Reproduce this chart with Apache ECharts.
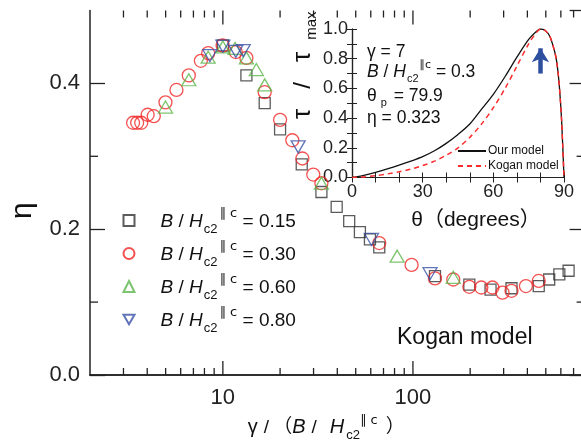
<!DOCTYPE html>
<html><head><meta charset="utf-8">
<script src="https://cdn.jsdelivr.net/npm/echarts@6/dist/echarts.min.js"></script>
<style>html,body{margin:0;padding:0;background:#fff}#c{width:581px;height:448px}</style>
</head><body><div id="c"></div>
<script>
const FONT = '"Liberation Sans", Arial, "Noto Sans CJK JP", sans-serif';
const AX = '#222';

// ---- main panel data: x = gamma/(B/Hc2||c), y = eta ----
const x015 = [10, 13.3, 16.6, 20.0, 26, 33, 39.7, 46.2, 52.6, 59.4, 66.5, 130.6, 198, 256, 330, 459, 521, 589, 659];
const y015 = [0.452, 0.411, 0.373, 0.337, 0.289, 0.251, 0.2305, 0.211, 0.196, 0.186, 0.175, 0.1356, 0.124, 0.117, 0.119, 0.122, 0.131, 0.138, 0.143];

const x030 = [3.37, 3.54, 3.72, 4.02, 4.33, 4.99, 5.70, 6.62, 7.66, 8.37, 9.97, 11.7, 13.3, 16.6, 20.0, 23.2, 26.2, 29.9, 33.0, 66.5, 98.4, 130.6, 163, 198, 229, 262, 296, 330, 393, 459];
const y030 = [0.346, 0.346, 0.346, 0.357, 0.355, 0.374, 0.391, 0.411, 0.431, 0.4415, 0.452, 0.443, 0.435, 0.388, 0.350, 0.322, 0.297, 0.275, 0.263, 0.181, 0.151, 0.1325, 0.131, 0.121, 0.120, 0.120, 0.113, 0.1155, 0.122, 0.129];

const x060 = [4.99, 6.62, 8.37, 10, 11.6, 13.3, 15.0, 16.6, 33, 82.6, 163];
const y060 = [0.3675, 0.405, 0.436, 0.450, 0.448, 0.435, 0.419, 0.398, 0.263, 0.163, 0.134];

const x080 = [8.54, 10, 11.7, 12.8, 24.9, 60.5, 123];
const y080 = [0.438, 0.451, 0.444, 0.445, 0.313, 0.186, 0.139];

const fieldLabels = ['0.15', '0.30', '0.60', '0.80'];

// main axis ticks
const xMin = 2, xMax = 800, yMin = 0, yMax = 0.5;
const xMajorTicks = [10, 100];
const xMinorTicks = [3, 4, 5, 6, 7, 8, 9, 20, 30, 40, 50, 60, 70, 80, 90, 200, 300, 400, 500, 600, 700];
const yMinorTicks = [0.1, 0.3];

// ---- inset data: theta (deg) vs tau/tau_max ----
const thetaDeg = [0, 5, 10, 15, 20, 25, 30, 35, 40, 45, 50, 55, 60, 65, 70, 75, 78, 80, 82, 84, 86, 87, 88, 89, 90];
const ourModel = [0, 0.015, 0.035, 0.058, 0.083, 0.11, 0.14, 0.18, 0.23, 0.29, 0.36, 0.46, 0.56, 0.68, 0.81, 0.93, 0.98, 1.0, 0.99, 0.95, 0.85, 0.77, 0.62, 0.38, 0];
const koganModel = [0, 0.004, 0.012, 0.024, 0.038, 0.057, 0.08, 0.11, 0.15, 0.20, 0.27, 0.36, 0.47, 0.60, 0.75, 0.90, 0.97, 1.0, 0.99, 0.95, 0.85, 0.77, 0.62, 0.38, 0];
const arrowTheta = 80, arrowFrom = 0.70, arrowTo = 0.87;

const pair = (xs, ys) => xs.map((x, i) => [x, ys[i]]);

const chart = echarts.init(document.getElementById('c'), null, {renderer: 'canvas'});

const SUPF = '"DejaVu Sans", ' + FONT;
const DOWN_TRIANGLE = 'path://M0,0L14,0L7,12Z';
const legendRich = {
  b0: {fontSize: 19, fontStyle: 'italic', fontFamily: FONT, color: '#111', padding: [2, 0, 0, 21]},
  i: {fontSize: 19, fontStyle: 'italic', fontFamily: FONT, color: '#111', padding: [2, 0, 0, 0]},
  n: {fontSize: 19, fontFamily: FONT, color: '#111', padding: [2, 0, 0, 0]},
  sub: {fontSize: 13, fontFamily: FONT, color: '#111', padding: [18, 0, 0, 1]},
  sup: {fontSize: 13, fontFamily: SUPF, color: '#111', padding: [0, 0, 14, 2]}
};

function scatter(name, xs, ys, symbol, size, color) {
  return {
    type: 'scatter', name: name, xAxisIndex: 0, yAxisIndex: 0,
    data: pair(xs, ys), symbol: symbol, symbolSize: size,
    itemStyle: {color: 'rgba(255,255,255,0)', borderColor: color, borderWidth: 1.3},
    emphasis: {disabled: true}
  };
}

const names = fieldLabels.map(v => 'B/Hc2||c = ' + v);

function xTickSeries(values, len) {
  return {
    type: 'custom', xAxisIndex: 0, yAxisIndex: 0, silent: true, clip: false, z: 5,
    data: values.map(v => [v, yMin]), encode: {x: 0, y: 1},
    renderItem: (params, api) => {
      const v = api.value(0);
      const b = api.coord([v, yMin]), t = api.coord([v, yMax]);
      const st = {stroke: AX, lineWidth: 1.3};
      return {type: 'group', children: [
        {type: 'line', shape: {x1: b[0], y1: b[1], x2: b[0], y2: b[1] - len}, style: st},
        {type: 'line', shape: {x1: t[0], y1: t[1], x2: t[0], y2: t[1] + len}, style: st}
      ]};
    }
  };
}

const option = {
  animation: false,
  backgroundColor: '#fff',
  textStyle: {fontFamily: FONT},
  grid: [
    {left: 90, top: 10.5, width: 494.6, height: 364.5, outerBoundsMode: 'none', containLabel: false},
    {left: 352, top: 29, width: 212, height: 148.5, outerBoundsMode: 'none', containLabel: false}
  ],
  xAxis: [
    {
      type: 'log', gridIndex: 0, min: xMin, max: xMax, position: 'bottom',
      axisLine: {lineStyle: {color: AX, width: 1.5}},
      axisTick: {show: false},
      splitLine: {show: false},
      axisLabel: {
        fontSize: 22, color: '#222', margin: 12, fontFamily: FONT,
        formatter: v => {const l = Math.log10(v); return Math.abs(l - Math.round(l)) < 1e-6 ? String(Math.round(Math.pow(10, Math.round(l)))) : '';}
      },
      name: '{g|γ}{n|/}{p|（}{i|B}{m|/}{i|H}{sub|c2}{sup|∥ c}{q|）}',
      nameLocation: 'middle', nameGap: 36,
      nameTextStyle: {
        padding: [0, 22, 0, 0],
        rich: {
          g: {fontSize: 20, fontFamily: FONT, color: '#111'},
          i: {fontSize: 20, fontStyle: 'italic', fontFamily: FONT, color: '#111'},
          n: {fontSize: 19, fontFamily: FONT, color: '#111', padding: [0, 4, 0, 6]},
          m: {fontSize: 19, fontFamily: FONT, color: '#111', padding: [0, 13, 0, 6]},
          p: {fontSize: 19, fontFamily: FONT, color: '#111'},
          q: {fontSize: 19, fontFamily: FONT, color: '#111', padding: [0, 0, 0, 8]},
          sub: {fontSize: 13, fontFamily: FONT, color: '#111', padding: [16, 0, 0, 2]},
          sup: {fontSize: 13, fontFamily: SUPF, color: '#111', padding: [0, 0, 15, 0]}
        }
      }
    },
    {
      type: 'log', gridIndex: 0, min: xMin, max: xMax, position: 'top',
      axisLine: {lineStyle: {color: AX, width: 1.5}},
      axisTick: {show: false},
      axisLabel: {show: false}, splitLine: {show: false}
    },
    {
      type: 'value', gridIndex: 1, min: 0, max: 90, interval: 30, position: 'bottom',
      axisLine: {lineStyle: {color: AX, width: 1.2}},
      axisTick: {inside: true, length: 5, lineStyle: {color: AX}},
      minorTick: {show: true, splitNumber: 3, length: 5, lineStyle: {color: AX}},
      splitLine: {show: false}, minorSplitLine: {show: false},
      axisLabel: {fontSize: 18, color: '#222', margin: 6, fontFamily: FONT},
      name: 'θ（degrees）', nameLocation: 'middle', nameGap: 32,
      nameTextStyle: {fontSize: 21, color: '#111', fontFamily: FONT, padding: [0, 0, 0, 36]}
    },
    {
      type: 'value', gridIndex: 1, min: 0, max: 90, interval: 30, position: 'top',
      axisLine: {lineStyle: {color: AX, width: 1.2}},
      axisTick: {inside: true, length: 5, lineStyle: {color: AX}},
      minorTick: {show: true, splitNumber: 3, length: 5, lineStyle: {color: AX}},
      splitLine: {show: false}, axisLabel: {show: false}
    }
  ],
  yAxis: [
    {
      type: 'value', gridIndex: 0, min: yMin, max: yMax, interval: 0.2, position: 'left',
      axisLine: {lineStyle: {color: AX, width: 1.5}},
      axisTick: {inside: true, length: 15, lineStyle: {color: AX, width: 1.3}},
      splitLine: {show: false},
      axisLabel: {fontSize: 22, color: '#222', margin: 10, fontFamily: FONT, showMaxLabel: false, formatter: v => v.toFixed(1)},
      name: 'η', nameLocation: 'middle', nameGap: 52,
      nameTextStyle: {fontSize: 30, color: '#111', fontFamily: FONT, padding: [0, 36, 0, 0]}
    },
    {
      type: 'value', gridIndex: 0, min: yMin, max: yMax, interval: 0.2, position: 'right',
      axisLine: {lineStyle: {color: AX, width: 1.5}},
      axisTick: {inside: true, length: 15, lineStyle: {color: AX, width: 1.3}},
      splitLine: {show: false}, axisLabel: {show: false}
    },
    {
      type: 'value', gridIndex: 1, min: 0, max: 1, interval: 0.2, position: 'left',
      axisLine: {lineStyle: {color: AX, width: 1.2}},
      axisTick: {inside: true, length: 5, lineStyle: {color: AX}},
      minorTick: {show: true, splitNumber: 2, length: 5, lineStyle: {color: AX}},
      splitLine: {show: false}, minorSplitLine: {show: false},
      axisLabel: {fontSize: 18, color: '#222', margin: 4, fontFamily: FONT, formatter: v => v.toFixed(1)},
      name: '{t|τ}{n|/}{t|τ}{s|max}', nameLocation: 'middle', nameGap: 30,
      nameTextStyle: {
        padding: [0, 0, 0, 76],
        rich: {
          t: {fontSize: 26, fontFamily: FONT, color: '#111'},
          n: {fontSize: 24, fontFamily: FONT, color: '#111', padding: [0, 20, 0, 20]},
          s: {fontSize: 15, fontFamily: FONT, color: '#111', padding: [17, 0, 0, 12]}
        }
      }
    },
    {
      type: 'value', gridIndex: 1, min: 0, max: 1, interval: 0.2, position: 'right',
      axisLine: {lineStyle: {color: AX, width: 1.2}},
      axisTick: {inside: true, length: 5, lineStyle: {color: AX}},
      minorTick: {show: true, splitNumber: 2, length: 5, lineStyle: {color: AX}},
      splitLine: {show: false}, axisLabel: {show: false}
    }
  ],
  legend: [
    {
      data: names,
      orient: 'vertical', left: 122.5, top: 207, padding: 0, itemGap: 4,
      itemWidth: 11, itemHeight: 11, selectedMode: false,
      formatter: name => {
        const v = name.split('= ')[1];
        return '{b0|B}{n| / }{i|H}{sub|c2}{sup|∥ c}{n| = ' + v + '}';
      },
      textStyle: {fontSize: 19, color: '#111', rich: legendRich}
    },
    {
      data: ['Our model', 'Kogan model'], orient: 'vertical', left: 457, top: 145, padding: 0,
      itemGap: 3, itemWidth: 28, itemHeight: 11, selectedMode: false,
      itemStyle: {color: 'rgba(0,0,0,0)', borderWidth: 0, opacity: 0},
      textStyle: {fontSize: 12, color: '#111', fontFamily: FONT, padding: [0, 0, 0, -3]}
    }
  ],
  series: [
    scatter(names[0], x015, y015, 'rect', 11, '#333'),
    scatter(names[1], x030, y030, 'circle', 13, '#f02525'),
    scatter(names[2], x060, y060, 'triangle', [14, 12], '#5db54a'),
    scatter(names[3], x080, y080, DOWN_TRIANGLE, [14, 12], '#3a52a6'),
    xTickSeries(xMajorTicks, 14),
    xTickSeries(xMinorTicks, 7),
    {
      type: 'custom', xAxisIndex: 0, yAxisIndex: 0, silent: true, clip: false, z: 5,
      data: yMinorTicks.map(v => [xMin, v]), encode: {x: 0, y: 1},
      renderItem: (params, api) => {
        const v = api.value(1);
        const l = api.coord([xMin, v]), r = api.coord([xMax, v]);
        const st = {stroke: AX, lineWidth: 1.3};
        return {type: 'group', children: [
          {type: 'line', shape: {x1: l[0], y1: l[1], x2: l[0] + 8, y2: l[1]}, style: st},
          {type: 'line', shape: {x1: r[0], y1: r[1], x2: r[0] - 8, y2: r[1]}, style: st}
        ]};
      }
    },
    {
      type: 'line', name: 'Our model', xAxisIndex: 2, yAxisIndex: 2,
      data: pair(thetaDeg, ourModel), showSymbol: false, symbol: 'none', smooth: 0.3,
      lineStyle: {color: '#111', width: 1.3}, itemStyle: {color: 'rgba(0,0,0,0)'}, emphasis: {disabled: true}
    },
    {
      type: 'line', name: 'Kogan model', xAxisIndex: 2, yAxisIndex: 2,
      data: pair(thetaDeg, koganModel), showSymbol: false, symbol: 'none', smooth: 0.3,
      lineStyle: {color: '#ff2a2a', width: 1.5, type: [5, 4]}, itemStyle: {color: 'rgba(0,0,0,0)'}, emphasis: {disabled: true},
      markLine: {
        silent: true, symbol: ['none', 'arrow'], symbolSize: [13, 14], label: {show: false},
        lineStyle: {color: '#2d4f9e', width: 4.5, type: 'solid'}, itemStyle: {color: '#2d4f9e'}, emphasis: {disabled: true},
        data: [[{coord: [arrowTheta, arrowFrom]}, {coord: [arrowTheta, arrowTo]}]]
      }
    }
  ],
  graphic: [
    {type: 'text', silent: true, style: {x: 397, y: 338, verticalAlign: 'middle', text: 'Kogan model', fill: '#111', fontSize: 23, fontFamily: FONT}},
    {type: 'text', silent: true, style: {x: 367, y: 52, verticalAlign: 'middle', text: 'γ = 7', fill: '#111', fontSize: 17.5, fontFamily: FONT}},
    {type: 'text', silent: true, style: {x: 367, y: 72, verticalAlign: 'middle', fill: '#111', fontSize: 17.5, fontFamily: FONT,
      text: '{i|B}{n| / }{i|H}{sub|c2}{sup|∥c}{n| = 0.3}',
      rich: {
        i: {fontSize: 17.5, fontStyle: 'italic', fontFamily: FONT, fill: '#111'},
        n: {fontSize: 17.5, fontFamily: FONT, fill: '#111'},
        sub: {fontSize: 11, fontFamily: FONT, fill: '#111', padding: [14, 0, 0, 1]},
        sup: {fontSize: 11, fontFamily: SUPF, fill: '#111', padding: [0, 0, 14, 1]}
      }}},
    {type: 'text', silent: true, style: {x: 367, y: 96, verticalAlign: 'middle', fill: '#111', fontSize: 17.5, fontFamily: FONT,
      text: '{n|θ}{sub|p}{n| = 79.9}',
      rich: {
        n: {fontSize: 17.5, fontFamily: FONT, fill: '#111'},
        sub: {fontSize: 11, fontFamily: FONT, fill: '#111', padding: [14, 2, 0, 4]}
      }}},
    {type: 'text', silent: true, style: {x: 367, y: 118, verticalAlign: 'middle', text: 'η = 0.323', fill: '#111', fontSize: 17.5, fontFamily: FONT}}
  ]
};
chart.setOption(option);
</script>
</body></html>
